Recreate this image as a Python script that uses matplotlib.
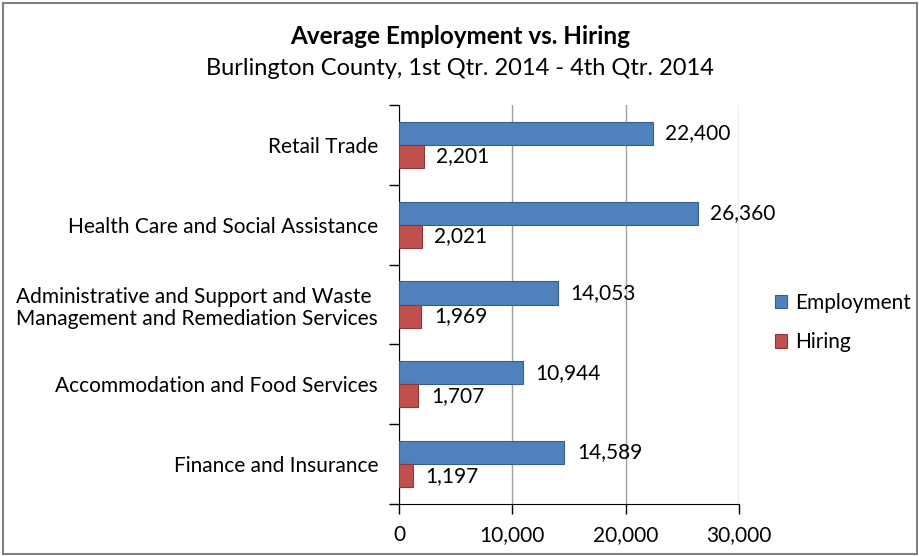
"""
Average employment vs. hiring, Burlington County 2014
"""
import matplotlib.pyplot as plt
import numpy as np
from matplotlib.patches import Rectangle

plt.rcParams['font.family'] = ['Lato', 'DejaVu Sans']

industries = ['Retail Trade',
              'Health Care and Social Assistance',
              'Administrative and Support and Waste\nManagement and Remediation Services',
              'Accommodation and Food Services',
              'Finance and Insurance']
employment = [22400, 26360, 14053, 10944, 14589]
hiring = [2201, 2021, 1969, 1707, 1197]

blue = '#4F81BD'
red = '#C0504D'
fs = 15

fig = plt.figure(figsize=(9.2, 5.56), dpi=100)
ax = fig.add_axes([0.4337, 0.0935, 0.3696, 0.7175])

y = np.arange(len(industries))
h = 0.29
ax.barh(y - h / 2, employment, height=h, color=blue, edgecolor='#385D8A', linewidth=0.8,
        label='Employment', zorder=3)
ax.barh(y + h / 2, hiring, height=h, color=red, edgecolor='#8C3836', linewidth=0.8,
        label='Hiring', zorder=3)

# data labels just right of each bar
for yi, v in zip(y, employment):
    ax.text(v + 1100, yi - h / 2, f'{v:,}', va='center', ha='left', fontsize=fs)
for yi, v in zip(y, hiring):
    ax.text(v + 1100, yi + h / 2, f'{v:,}', va='center', ha='left', fontsize=fs)

ax.set_xlim(0, 30000)
ax.set_ylim(len(industries) - 0.5, -0.5)
ax.set_xticks([0, 10000, 20000, 30000])
ax.set_xticklabels(['0', '10,000', '20,000', '30,000'], fontsize=fs)
ax.set_yticks(y)
ax.set_yticklabels(industries, fontsize=fs, linespacing=1.15)
ax.tick_params(axis='y', length=0, pad=15)
ax.set_yticks(np.arange(-0.5, len(industries)), minor=True)
ax.tick_params(axis='y', which='minor', length=7, width=1)
ax.tick_params(axis='x', length=7, width=1, pad=8)
for lbl in ax.get_yticklabels():
    lbl.set_multialignment('left')

ax.xaxis.grid(True, color='#A0A0A0', linewidth=1, zorder=0)
ax.spines['top'].set_visible(False)
ax.spines['right'].set_visible(False)

ax.legend(loc='center left', bbox_to_anchor=(1.05, 0.455), frameon=False, fontsize=fs,
          handlelength=0.6, handleheight=0.6, labelspacing=0.95, handletextpad=0.4)

fig.text(0.5, 0.935, 'Average Employment vs. Hiring', ha='center', va='center',
         fontsize=17.5, fontweight='bold')
fig.text(0.5, 0.877, 'Burlington County, 1st Qtr. 2014 - 4th Qtr. 2014', ha='center',
         va='center', fontsize=17)

fig.patches.append(Rectangle((0.003, 0.004), 0.994, 0.99, transform=fig.transFigure,
                             fill=False, edgecolor='#808080', linewidth=1.5))

plt.savefig('out.png', dpi=100)
